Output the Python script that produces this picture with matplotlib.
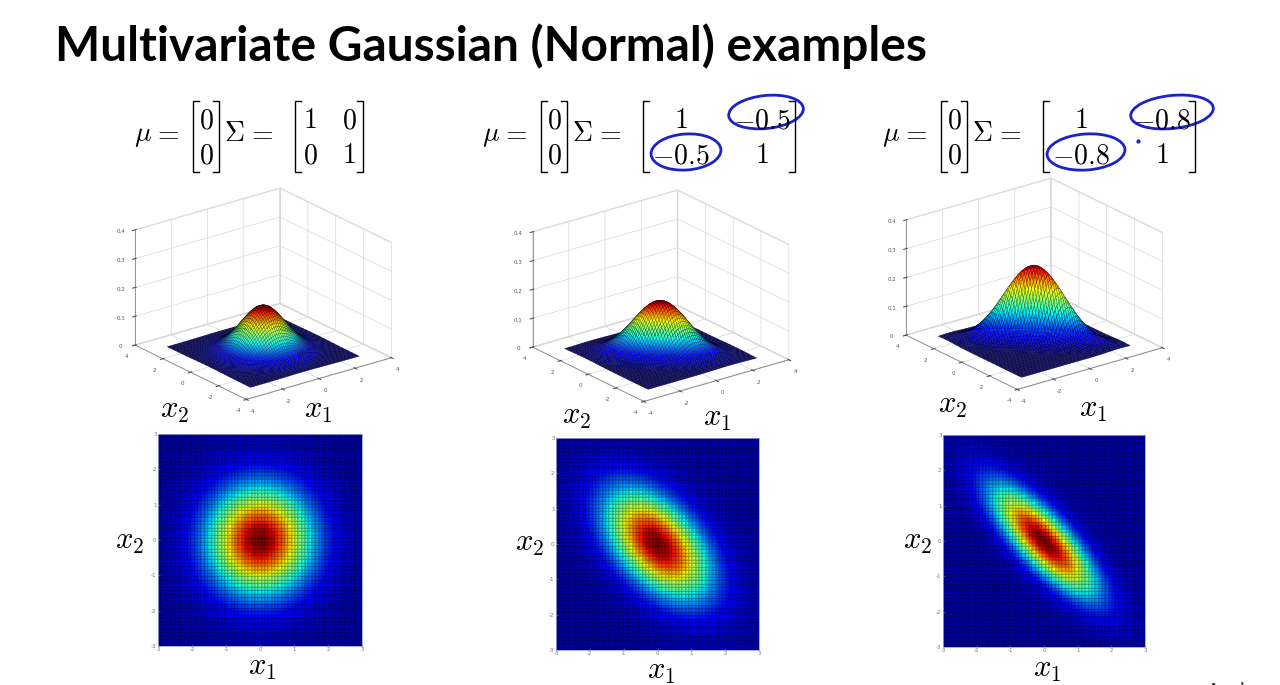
import numpy as np
import matplotlib
matplotlib.use("Agg")
import matplotlib.pyplot as plt
from matplotlib import cm
from matplotlib.patches import Ellipse
from matplotlib.ticker import FuncFormatter

W, H = 1280, 685

# the three examples: mean and covariance
mu_vals = [0, 0]
cov_diag = [1.0, 1.0]
cov_off = [0.0, -0.5, -0.8]

surf_ticks = [-4, -2, 0, 2, 4]
z_ticks = [0, 0.1, 0.2, 0.3, 0.4]
map_ticks = [-3, -2, -1, 0, 1, 2, 3]
grid_lo, grid_hi, grid_n = -3, 3, 61

title = "Multivariate Gaussian (Normal) examples"

plt.rcParams["mathtext.fontset"] = "cm"
plt.rcParams["axes.unicode_minus"] = False
plt.rcParams["grid.color"] = "#d8d8d8"
plt.rcParams["grid.linewidth"] = 0.5


def gauss(X, Y, s12):
    S = np.array([[cov_diag[0], s12], [s12, cov_diag[1]]])
    Si = np.linalg.inv(S)
    dx, dy = X - mu_vals[0], Y - mu_vals[1]
    q = Si[0, 0] * dx * dx + 2 * Si[0, 1] * dx * dy + Si[1, 1] * dy * dy
    return np.exp(-0.5 * q) / (2 * np.pi * np.sqrt(np.linalg.det(S)))


def lab(v):
    return "0" if v == 0 else f"{v:g}"


fig = plt.figure(figsize=(W / 100, H / 100), dpi=100)
fig.patch.set_facecolor("white")

# overlay in pixel coords for the slide text
ov = fig.add_axes([0, 0, 1, 1])
ov.set_xlim(0, W)
ov.set_ylim(H, 0)
ov.axis("off")

t = ov.text(55, 61, title, fontsize=30, fontweight="bold", family="Lato", va="baseline")
fig.canvas.draw()
bw = t.get_window_extent().width
t.set_fontsize(30 * 873 / bw)

ov.text(1207, 682, "Andrew Ng", fontsize=14, va="top", color="#333333")


def bracket(x, side, y0=101, y1=172, s=6):
    d = s if side == "l" else -s
    ov.plot([x + d, x, x, x + d], [y0, y0, y1, y1], color="black", lw=1.0,
            solid_joinstyle="miter")


def mt(x, y, s):
    ov.text(x, y, s, fontsize=20, ha="center", va="baseline")


x0s = [135, 483, 883]
blue = "#1a22c8"
for i, c in enumerate(cov_off):
    x0 = x0s[i]
    mt(x0 + 8, 141, r"$\mu$")
    mt(x0 + 31, 141, r"$=$")
    bracket(x0 + 58, "l")
    bracket(x0 + 84, "r")
    mt(x0 + 71, 128, rf"${mu_vals[0]}$")
    mt(x0 + 71, 163, rf"${mu_vals[1]}$")
    mt(x0 + 99, 141, r"$\Sigma$")
    mt(x0 + 125, 141, r"$=$")
    entries = [[cov_diag[0], c], [c, cov_diag[1]]]
    narrow = c == 0
    cx = [175, 214] if narrow else [198, 279]
    bracket(x0 + 160, "l")
    bracket(x0 + (228 if narrow else 312), "r")
    for r, yb in enumerate([128, 163]):
        for k in range(2):
            mt(x0 + cx[k], yb, rf"${lab(entries[r][k])}$")
    if not narrow:
        w_ = 75 + (i - 1) * 8
        ov.add_patch(Ellipse((x0 + 283 + (i - 1) * 6, 112), w_, 33, angle=-6,
                             fill=False, ec=blue, lw=2))
        ov.add_patch(Ellipse((x0 + 203, 152), 70 + (i - 1) * 8, 36, angle=-4,
                             fill=False, ec=blue, lw=2))
ov.plot([1138], [141], "o", ms=2, color=blue)

# 3D surfaces
g = np.linspace(grid_lo, grid_hi, grid_n)
X, Y = np.meshgrid(g, g)
surf_rects = [(92, 179, 336, 236), (485, 181, 345, 236), (862, 169, 338, 236)]
lab3d = [((175, 410), (318, 410)), ((577, 416), (717, 418)), ((953, 405), (1093, 409))]
for i, c in enumerate(cov_off):
    l, tp, w, h = surf_rects[i]
    ax = fig.add_axes([l / W, 1 - (tp + h) / H, w / W, h / H], projection="3d")
    ax.set_proj_type("ortho")
    ax.view_init(elev=22, azim=-127.5)
    ax.set_box_aspect((1, 1, 0.68), zoom=1.18)
    Z = gauss(X, Y, c)
    fc = cm.jet(Z / Z.max())
    ax.plot_surface(X, Y, Z, facecolors=fc, edgecolor=(0, 0, 0, 0.7), linewidth=0.2,
                    rstride=1, cstride=1, shade=False, antialiased=True)
    ax.set_xlim(-4, 4)
    ax.set_ylim(-4, 4)
    ax.set_zlim(0, 0.4)
    ax.set_xticks(surf_ticks)
    ax.set_yticks(surf_ticks)
    ax.set_zticks(z_ticks)
    ax.zaxis.set_major_formatter(FuncFormatter(lambda v, p: "0" if v == 0 else f"{v:g}"))
    for a in (ax.xaxis, ax.yaxis, ax.zaxis):
        a.pane.set_facecolor("white")
        a.pane.set_edgecolor("#c8c8c8")
        a.line.set_color("#888888")
        a.line.set_linewidth(0.6)
    ax.tick_params(labelsize=4, pad=-3, colors="#555555")
    ax.patch.set_alpha(0)
    (a2, a1) = lab3d[i]
    ov.text(*a2, r"$x_2$", fontsize=22, ha="center", va="center")
    ov.text(*a1, r"$x_1$", fontsize=22, ha="center", va="center")

# 2D density maps
e = np.linspace(grid_lo, grid_hi, grid_n + 1)
cen = 0.5 * (e[:-1] + e[1:])
Xc, Yc = np.meshgrid(cen, cen)
map_rects = [(158, 434, 204, 212), (556, 438, 203, 212), (943, 435, 202, 212)]
lab2d = [((130, 541), (262, 668)), ((530, 543), (661, 672)), ((918, 541), (1047, 669))]
for i, c in enumerate(cov_off):
    l, tp, w, h = map_rects[i]
    ax = fig.add_axes([l / W, 1 - (tp + h) / H, w / W, h / H])
    Z = gauss(Xc, Yc, c)
    ax.pcolormesh(e, e, Z, cmap="jet", vmin=-0.04 * Z.max(), vmax=Z.max(),
                  edgecolors=(0, 0, 0, 0.14), linewidth=0.3)
    ax.set_xlim(grid_lo, grid_hi)
    ax.set_ylim(grid_lo, grid_hi)
    ax.set_xticks(map_ticks)
    ax.set_yticks(map_ticks)
    ax.tick_params(labelsize=4, length=1.5, width=0.4, pad=1, colors="#777777", direction="in")
    for sp in ax.spines.values():
        sp.set_color("#9aa0c8")
        sp.set_linewidth(0.6)
    (a2, a1) = lab2d[i]
    ov.text(*a2, r"$x_2$", fontsize=22, ha="center", va="center", zorder=5)
    ov.text(*a1, r"$x_1$", fontsize=22, ha="center", va="center")

ov.set_zorder(10)
fig.savefig("out.png", dpi=100, facecolor="white")
